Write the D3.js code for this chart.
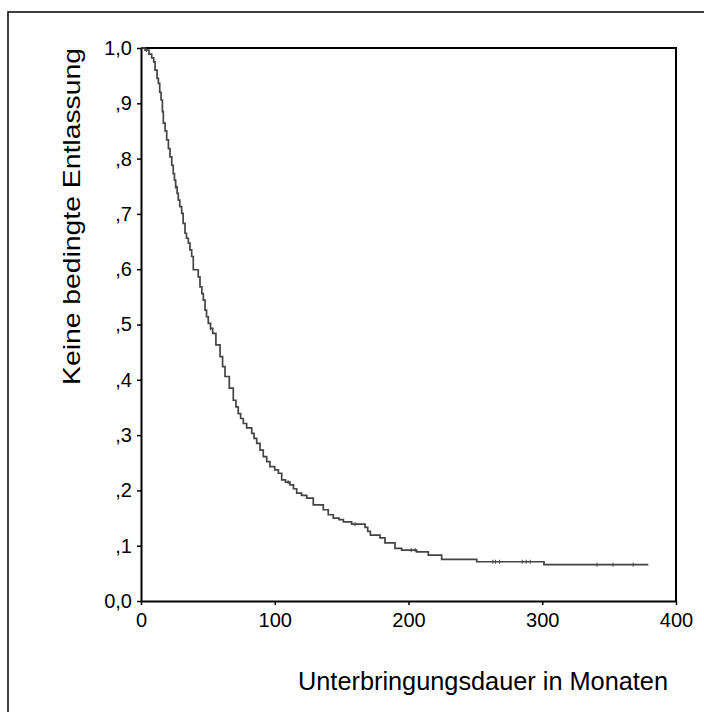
<!DOCTYPE html>
<html>
<head>
<meta charset="utf-8">
<script src="https://cdn.jsdelivr.net/npm/d3@7"></script>
<style>
  body { margin: 0; background: #fff; }
  text { font-family: "Liberation Sans", Arial, sans-serif; fill: #000; }
</style>
</head>
<body>
<svg></svg>
<script>
// step points of the Kaplan-Meier curve (months, proportion)
const times = [0, 3, 6, 8, 9.5, 10.5, 12, 13, 14, 15, 16, 16.7, 18, 19.2, 20.5, 21.7, 23, 24.1, 25, 25.9,
  27, 27.9, 29, 30.4, 31.5, 32.9, 34, 35.4, 36.6, 37.9, 39.1, 42.8, 44.1, 45.5, 46.6, 47.9, 49, 50.3, 52, 53.6,
  56, 59.1, 61, 62.8, 66, 69, 71, 72.7, 74.5, 76.5, 79, 82.8, 84.5, 86.5, 89, 91.4, 94, 96.4, 100, 102.7,
  105.2, 108, 111.4, 114, 116.4, 120, 123.9, 128.8, 136.3, 140, 143.8, 148, 151.3, 157.5, 167.5, 169.5, 171.5, 178.7,
  182.4, 189.9, 194.9, 206.1, 214.8, 224.8, 251, 301.3, 379.3]
const surv = [1, 0.996, 0.989, 0.982, 0.975, 0.96, 0.945, 0.936, 0.92, 0.906, 0.885, 0.864, 0.85, 0.834, 0.818, 0.803, 0.788, 0.773, 0.761, 0.749,
  0.737, 0.725, 0.713, 0.701, 0.683, 0.665, 0.656, 0.647, 0.635, 0.623, 0.599, 0.586, 0.568, 0.556, 0.544, 0.526, 0.514, 0.502, 0.493, 0.484,
  0.463, 0.442, 0.424, 0.406, 0.385, 0.363, 0.351, 0.339, 0.33, 0.321, 0.313, 0.303, 0.294, 0.285, 0.273, 0.261, 0.252, 0.243, 0.237, 0.231,
  0.219, 0.215, 0.21, 0.203, 0.195, 0.191, 0.186, 0.174, 0.165, 0.156, 0.15, 0.147, 0.143, 0.139, 0.133, 0.126, 0.119, 0.114,
  0.105, 0.095, 0.092, 0.089, 0.083, 0.0754, 0.071, 0.0656, 0.0656]
// censored observations
const censored = [4, 26, 52, 110, 160, 202, 205, 263, 265, 268, 285, 288, 291, 341, 353, 368]

const xTicks = [0, 100, 200, 300, 400]
const yTicks = [0, 0.1, 0.2, 0.3, 0.4, 0.5, 0.6, 0.7, 0.8, 0.9, 1]
const xTitle = "Unterbringungsdauer in Monaten"
const yTitle = "Keine bedingte Entlassung"

const svg = d3.select("svg")
  .attr("width", 704)
  .attr("height", 712)

// outer frame
svg.append("rect")
  .attr("x", 8)
  .attr("y", 12)
  .attr("width", 720)
  .attr("height", 720)
  .attr("fill", "none")
  .attr("stroke", "#000")
  .attr("stroke-width", 1.5)

const x = d3.scaleLinear().domain([0, 400]).range([141, 676])
const y = d3.scaleLinear().domain([0, 1]).range([601, 48])

const yFmt = d => d === 0 ? "0,0" : d === 1 ? "1,0" : "," + Math.round(d * 10)

// plot box (top and right)
svg.append("path")
  .attr("d", `M${x(0)},${y(1)}H${x(400)}V${y(0)}`)
  .attr("fill", "none")
  .attr("stroke", "#000")
  .attr("stroke-width", 2)

const xAxis = svg.append("g")
  .attr("transform", `translate(0,${y(0)})`)
  .call(d3.axisBottom(x).tickValues(xTicks).tickSize(4).tickPadding(8).tickSizeOuter(0))
xAxis.selectAll("text").attr("font-size", 20).attr("font-family", "Liberation Sans, Arial, sans-serif")

const yAxis = svg.append("g")
  .attr("transform", `translate(${x(0)},0)`)
  .call(d3.axisLeft(y).tickValues(yTicks).tickFormat(yFmt).tickSize(4).tickPadding(5).tickSizeOuter(0))
yAxis.selectAll("text").attr("font-size", 20).attr("font-family", "Liberation Sans, Arial, sans-serif")

svg.selectAll(".domain").attr("stroke", "#000").attr("stroke-width", 2)
svg.selectAll(".tick line").attr("stroke", "#000").attr("stroke-width", 1.5)

const pts = times.map((t, i) => [t, surv[i]])

svg.append("path")
  .datum(pts)
  .attr("d", d3.line().x(d => x(d[0])).y(d => y(d[1])).curve(d3.curveStepAfter))
  .attr("fill", "none")
  .attr("stroke", "#444")
  .attr("stroke-width", 1.7)

const survAt = t => {
  let s = 1
  times.forEach((tt, i) => { if (tt <= t) s = surv[i] })
  return s
}

svg.selectAll("line.cens")
  .data(censored)
  .enter()
  .append("line")
  .attr("class", "cens")
  .attr("x1", d => x(d))
  .attr("x2", d => x(d))
  .attr("y1", d => y(survAt(d)) - 2)
  .attr("y2", d => y(survAt(d)) + 2)
  .attr("stroke", "#444")
  .attr("stroke-width", 1)

svg.append("text")
  .attr("x", 668)
  .attr("y", 690)
  .attr("text-anchor", "end")
  .attr("font-size", 25)
  .attr("textLength", 370)
  .attr("lengthAdjust", "spacingAndGlyphs")
  .text(xTitle)

svg.append("text")
  .attr("transform", "translate(80,48) rotate(-90)")
  .attr("text-anchor", "end")
  .attr("font-size", 24)
  .attr("textLength", 337)
  .attr("lengthAdjust", "spacingAndGlyphs")
  .text(yTitle)
</script>
</body>
</html>
